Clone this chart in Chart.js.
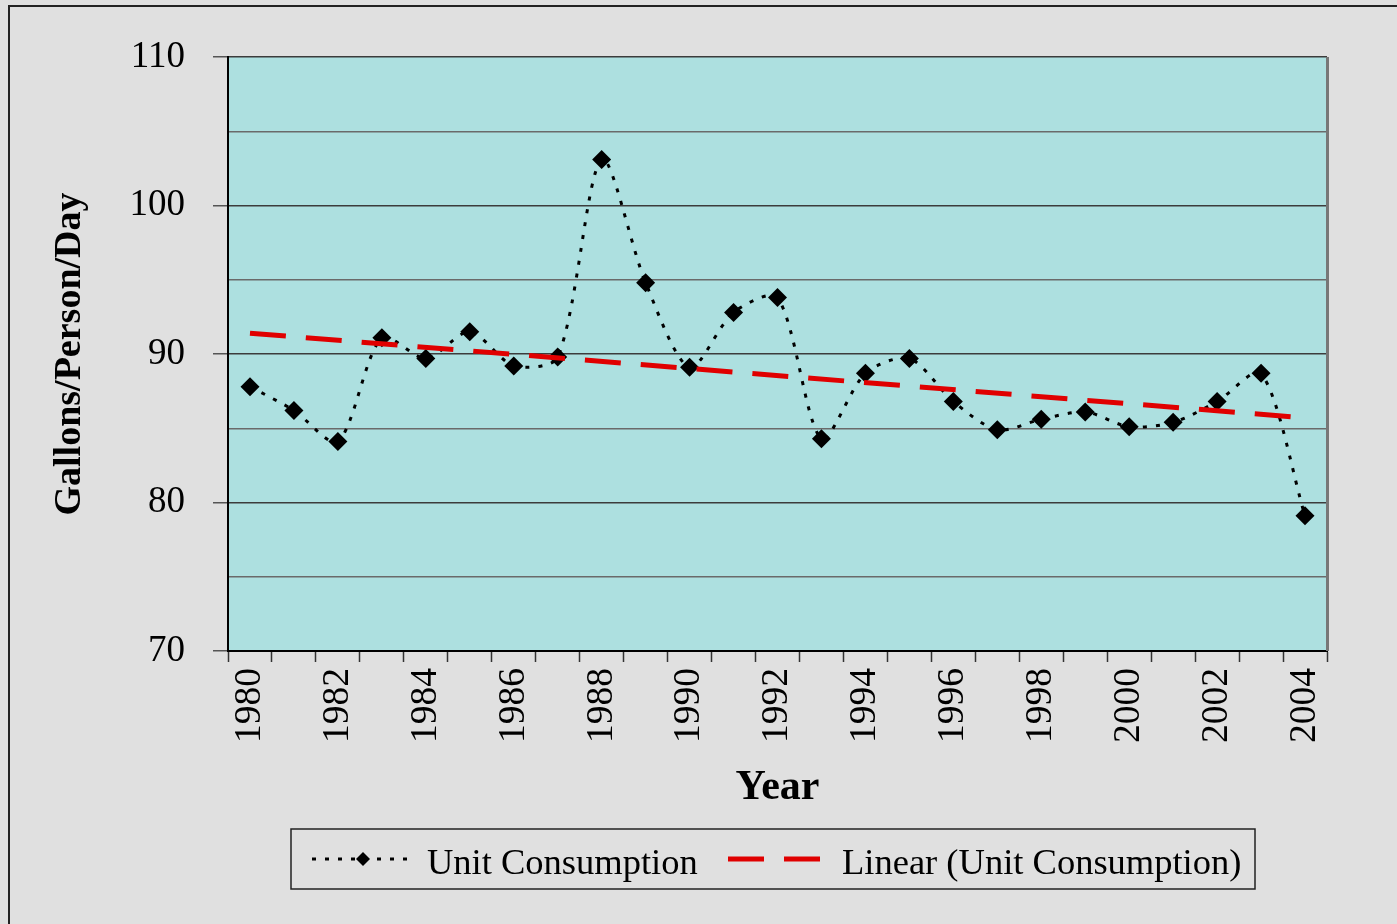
<!DOCTYPE html>
<html>
<head>
<meta charset="utf-8">
<script src="https://cdn.jsdelivr.net/npm/chart.js@4/dist/chart.umd.min.js"></script>
<style>
  html, body { margin: 0; padding: 0; background: #e0e0e0; }
  canvas { display: block; }
</style>
</head>
<body>
<canvas id="myChart" width="1397" height="924"></canvas>
<script>
const years = ['1980','1981','1982','1983','1984','1985','1986','1987','1988','1989','1990','1991','1992',
  '1993','1994','1995','1996','1997','1998','1999','2000','2001','2002','2003','2004'];
const unitConsumption = [87.8, 86.2, 84.1, 91.1, 89.7, 91.5, 89.2, 89.8, 103.1, 94.8, 89.1, 92.8, 93.8,
  84.3, 88.7, 89.7, 86.8, 84.9, 85.6, 86.1, 85.1, 85.4, 86.8, 88.7, 79.1];
// trend line at both ends
const trendLine = [91.4, null, null, null, null, null, null, null, null, null, null, null, null,
  null, null, null, null, null, null, null, null, null, null, null, 85.7];
const legendLabels = ['Unit Consumption', 'Linear (Unit Consumption)'];

const serif = "'Liberation Serif', 'Times New Roman', serif";

const bgPlugin = {
  id: 'bg',
  beforeDraw(chart) {
    const { ctx, chartArea: a } = chart;
    ctx.save();
    ctx.fillStyle = '#e0e0e0';
    ctx.fillRect(0, 0, chart.width, chart.height);
    ctx.strokeStyle = '#222';
    ctx.lineWidth = 2;
    ctx.strokeRect(9, 6, chart.width + 20, chart.height + 20);
    ctx.fillStyle = '#ade0e0';
    ctx.fillRect(a.left, a.top, a.right - a.left, a.bottom - a.top);
    ctx.restore();
  },
  afterDraw(chart) {
    const { ctx, chartArea: a } = chart;
    ctx.save();
    // right edge of the plot
    ctx.strokeStyle = '#777';
    ctx.lineWidth = 3;
    ctx.beginPath();
    ctx.moveTo(a.right + 0.5, a.top);
    ctx.lineTo(a.right + 0.5, a.bottom);
    ctx.stroke();

    // legend box
    const bx = 291, by = 829, bw = 964, bh = 60;
    ctx.strokeStyle = '#222';
    ctx.lineWidth = 1.5;
    ctx.strokeRect(bx, by, bw, bh);
    const cy = by + bh / 2;

    ctx.strokeStyle = '#000';
    ctx.lineWidth = 3;
    ctx.setLineDash([4, 9]);
    ctx.beginPath();
    ctx.moveTo(312, cy);
    ctx.lineTo(410, cy);
    ctx.stroke();
    ctx.setLineDash([]);
    ctx.fillStyle = '#000';
    ctx.beginPath();
    ctx.moveTo(363, cy - 7);
    ctx.lineTo(370, cy);
    ctx.lineTo(363, cy + 7);
    ctx.lineTo(356, cy);
    ctx.closePath();
    ctx.fill();

    ctx.strokeStyle = '#e00000';
    ctx.lineWidth = 5;
    ctx.setLineDash([36, 20]);
    ctx.beginPath();
    ctx.moveTo(728, cy);
    ctx.lineTo(822, cy);
    ctx.stroke();
    ctx.setLineDash([]);

    ctx.fillStyle = '#000';
    ctx.font = '36.5px ' + serif;
    ctx.textBaseline = 'alphabetic';
    ctx.textAlign = 'left';
    ctx.fillText(legendLabels[0], 427, 874);
    ctx.fillText(legendLabels[1], 842, 874);
    ctx.restore();
  }
};

const data = {
  labels: years,
  datasets: [
    {
      label: legendLabels[0],
      data: unitConsumption,
      borderColor: '#000',
      borderWidth: 3,
      borderDash: [4, 9],
      tension: 0.28,
      pointStyle: 'rectRot',
      pointRadius: 9.5,
      pointBackgroundColor: '#000',
      pointBorderWidth: 0,
      order: 2
    },
    {
      label: legendLabels[1],
      data: trendLine,
      borderColor: '#e00000',
      borderWidth: 5,
      borderDash: [36, 20],
      spanGaps: true,
      pointRadius: 0,
      order: 1
    }
  ]
};

const config = {
  type: 'line',
  data: data,
  plugins: [bgPlugin],
  options: {
    responsive: false,
    animation: false,
    layout: { padding: { left: 47, top: 57, right: 70, bottom: 111 } },
    plugins: {
      legend: { display: false },
      tooltip: { enabled: false }
    },
    scales: {
      x: {
        offset: true,
        grid: {
          offset: true,
          drawOnChartArea: false,
          drawTicks: true,
          tickLength: 11,
          tickColor: '#333',
          tickWidth: 1.5
        },
        border: { color: '#000', width: 2 },
        ticks: {
          autoSkip: false,
          minRotation: 90,
          maxRotation: 90,
          padding: 6,
          color: '#000',
          font: { family: serif, size: 37.5 },
          callback: (v, i) => (i % 2 === 0 ? years[i] : '')
        },
        title: {
          display: true,
          text: 'Year',
          color: '#000',
          padding: 0,
          font: { family: serif, size: 42, weight: 'bold' }
        },
        afterFit: (s) => { s.height = 162; }
      },
      y: {
        min: 70,
        max: 110,
        grid: {
          color: (c) => (c.tick && c.tick.value % 10 === 0 ? '#3c3c3c' : '#6a6a6a'),
          lineWidth: 1.5,
          tickLength: 15,
          tickColor: (c) => (c.tick && c.tick.value % 10 === 0 ? '#555' : 'rgba(0,0,0,0)')
        },
        border: { color: '#000', width: 2 },
        ticks: {
          stepSize: 5,
          padding: 28,
          color: '#000',
          font: { family: serif, size: 37 },
          callback: (v) => (v % 10 === 0 ? v : '')
        },
        title: {
          display: true,
          text: 'Gallons/Person/Day',
          color: '#000',
          padding: 0,
          font: { family: serif, size: 38, weight: 'bold' }
        },
        afterFit: (s) => { s.width = 181; }
      }
    }
  }
};

new Chart(document.getElementById('myChart'), config);
</script>
</body>
</html>
